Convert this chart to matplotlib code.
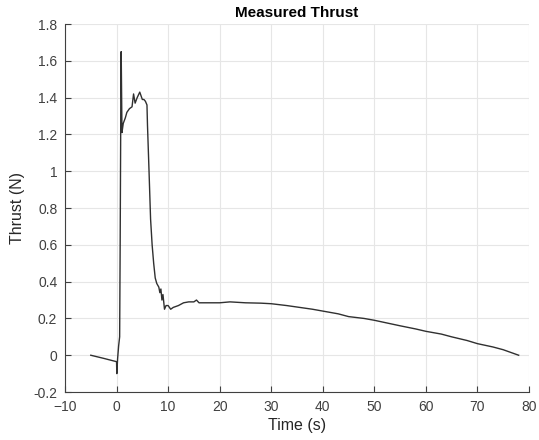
import matplotlib
matplotlib.use("Agg")
import matplotlib.pyplot as plt

plt.rcParams['font.family'] = ['Liberation Sans', 'DejaVu Sans']

time_s = [-5, -2.5, 0, 0.05, 0.2, 0.4, 0.6, 0.7, 0.8, 0.85, 0.9, 1.05, 1.3, 1.7, 2.0, 2.5, 3.0, 3.3, 3.6, 4.0,
          4.5, 5.0, 5.3, 5.6, 5.9, 6.0, 6.3, 6.6, 6.9, 7.2, 7.5, 7.8, 8.2, 8.4, 8.6, 8.8, 9.0, 9.3, 9.6, 10.0, 10.5, 11.0,
          12.0, 13.0, 14.0, 15.0, 15.5, 16.0, 18, 20, 22, 25, 28, 30, 33, 35, 38, 40, 43, 45, 48, 50,
          53, 55, 58, 60, 63, 65, 68, 70, 73, 75, 78]
thrust_n = [0.0, -0.017, -0.035, -0.1, -0.02, 0.05, 0.1, 0.6, 1.2, 1.64, 1.65, 1.21, 1.26, 1.29, 1.32, 1.34, 1.35, 1.42, 1.37, 1.40,
            1.43, 1.39, 1.39, 1.38, 1.36, 1.25, 1.0, 0.74, 0.6, 0.5, 0.42, 0.39, 0.37, 0.34, 0.36, 0.30, 0.33, 0.25, 0.27, 0.27, 0.25, 0.26,
            0.27, 0.285, 0.29, 0.29, 0.30, 0.285, 0.285, 0.285, 0.29, 0.285, 0.283, 0.28, 0.27, 0.262, 0.25, 0.24, 0.225, 0.21, 0.2, 0.19,
            0.172, 0.16, 0.143, 0.13, 0.115, 0.10, 0.08, 0.063, 0.045, 0.03, 0.0]

fig = plt.figure(figsize=(5.39, 4.4), dpi=100)
ax = fig.add_axes([0.1206, 0.109, 0.8608, 0.8364])
ax.plot(time_s, thrust_n, color='#303030', lw=1.0)
ax.set_xlim(-10, 80)
ax.set_ylim(-0.2, 1.8)
ax.set_xticks(range(-10, 81, 10))
ax.set_yticks([-0.2, 0, 0.2, 0.4, 0.6, 0.8, 1, 1.2, 1.4, 1.6, 1.8])
ax.set_yticklabels(['-0.2', '0', '0.2', '0.4', '0.6', '0.8', '1', '1.2', '1.4', '1.6', '1.8'])
ax.grid(True, color='#e6e6e6', lw=0.8)
ax.set_axisbelow(True)
for s in ['top', 'right']:
    ax.spines[s].set_visible(False)
for s in ['left', 'bottom']:
    ax.spines[s].set_color('#404040')
    ax.spines[s].set_linewidth(0.8)
ax.tick_params(direction='in', length=4, labelsize=10, colors='#404040', width=0.8, pad=5.5)
ax.set_xlabel('Time (s)', fontsize=11.5, color='#262626', labelpad=3)
ax.set_ylabel('Thrust (N)', fontsize=11.5, color='#262626', labelpad=6)
ax.set_title('Measured Thrust', fontsize=11, fontweight='bold', pad=5)
fig.savefig('out.png', dpi=100)
